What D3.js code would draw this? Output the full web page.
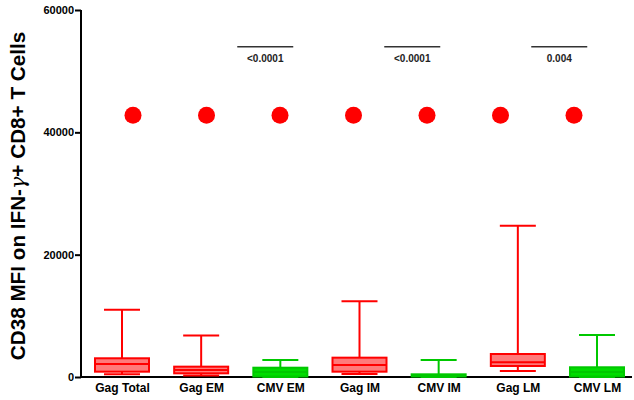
<!DOCTYPE html>
<html><head><meta charset="utf-8">
<script src="https://cdn.jsdelivr.net/npm/d3@7"></script>
<style>body{margin:0;background:#fff}svg{display:block}text{font-family:Arial,"Liberation Sans",sans-serif;font-weight:bold}</style>
</head><body><svg id="c" width="634" height="400"></svg>
<script>
const categories = ["Gag Total","Gag EM","CMV EM","Gag IM","CMV IM","Gag LM","CMV LM"];
const groups     = ["Gag","Gag","CMV","Gag","CMV","Gag","CMV"];
const whiskerLow = [440, 250, 0, 490, 0, 980, 0];
const q1         = [870, 600, 80, 870, 80, 1800, 80];
const median     = [2130, 1140, 800, 1960, 250, 2400, 800];
const q3         = [3060, 1690, 1520, 3160, 440, 3760, 1590];
const whiskerHigh= [11000, 6800, 2780, 12370, 2780, 24740, 6870];
const dotValues  = [42800, 42800, 42800, 42800, 42800, 42800, 42800];
const comparisons = [["Gag EM","CMV EM","<0.0001"],["Gag IM","CMV IM","<0.0001"],["Gag LM","CMV LM","0.004"]];
const compY = 54000;
const yTicks = [0, 20000, 40000, 60000];

const svg = d3.select("#c");
const y = d3.scaleLinear().domain([0, 60000]).range([377, 10]);
const x = d3.scalePoint().domain(categories).range([122, 597]);
const xDot = d3.scalePoint().domain(categories).range([133, 574]);
const stroke = {Gag:"#ff0000", CMV:"#00c800"};
const fill = {Gag:"#ff7a7a", CMV:"#00dd00"};
const bw = 54;

// y axis
const yAxis = d3.axisLeft(y).tickValues(yTicks).tickSize(6).tickFormat(d3.format("d"));
const gy = svg.append("g").attr("transform","translate(81,0)").call(yAxis);
gy.select(".domain").attr("stroke","#000").attr("stroke-width",2).attr("d","M0,10V377");
gy.selectAll(".tick line").attr("stroke","#000").attr("stroke-width",2);
gy.selectAll(".tick text").attr("font-size",11).attr("fill","#000").attr("x",-7);

// x axis
const xAxis = d3.axisBottom(x).tickSize(0).tickPadding(6);
const gx = svg.append("g").attr("transform","translate(0,377)").call(xAxis);
gx.select(".domain").attr("stroke","#000").attr("stroke-width",2).attr("d","M80,0H632");
gx.selectAll(".tick text").attr("font-size",12).attr("fill","#000").attr("dy","0.75em").attr("y",6);

// y title
const t = svg.append("text").attr("transform","translate(25,196) rotate(-90)").attr("text-anchor","middle").attr("font-size",20.7).attr("fill","#000");
t.append("tspan").text("CD38 MFI on IFN-");
t.append("tspan").attr("font-style","italic").attr("font-family","DejaVu Serif, serif").attr("font-weight","normal").text("γ");
t.append("tspan").text("+ CD8+ T Cells");

// boxes
const data = categories.map((c,i)=>({c, g:groups[i], lo:whiskerLow[i], q1:q1[i], med:median[i], q3:q3[i], hi:whiskerHigh[i]}));
const bg = svg.append("g").selectAll("g").data(data).join("g");
bg.append("line").attr("x1",d=>x(d.c)).attr("x2",d=>x(d.c)).attr("y1",d=>y(d.hi)).attr("y2",d=>y(d.q3)).attr("stroke",d=>stroke[d.g]).attr("stroke-width",2);
bg.append("line").attr("x1",d=>x(d.c)-bw/3).attr("x2",d=>x(d.c)+bw/3).attr("y1",d=>y(d.hi)).attr("y2",d=>y(d.hi)).attr("stroke",d=>stroke[d.g]).attr("stroke-width",2);
bg.append("line").attr("x1",d=>x(d.c)).attr("x2",d=>x(d.c)).attr("y1",d=>y(d.q1)).attr("y2",d=>y(d.lo)).attr("stroke",d=>stroke[d.g]).attr("stroke-width",2);
bg.append("line").attr("x1",d=>x(d.c)-bw/3).attr("x2",d=>x(d.c)+bw/3).attr("y1",d=>y(d.lo)).attr("y2",d=>y(d.lo)).attr("stroke",d=>stroke[d.g]).attr("stroke-width",2);
bg.append("rect").attr("x",d=>x(d.c)-bw/2).attr("width",bw).attr("y",d=>y(d.q3)).attr("height",d=>Math.max(1,y(d.q1)-y(d.q3))).attr("fill",d=>fill[d.g]).attr("stroke",d=>stroke[d.g]).attr("stroke-width",2);
bg.append("line").attr("x1",d=>x(d.c)-bw/2).attr("x2",d=>x(d.c)+bw/2).attr("y1",d=>y(d.med)).attr("y2",d=>y(d.med)).attr("stroke",d=>stroke[d.g]).attr("stroke-width",2);

// dots
svg.append("g").selectAll("circle").data(categories).join("circle")
  .attr("cx",c=>xDot(c)).attr("cy",(c,i)=>y(dotValues[i])).attr("r",8.5).attr("fill","#ff0000");

// comparisons
const cg = svg.append("g").selectAll("g").data(comparisons).join("g");
const mid = d=>(xDot(d[0])+xDot(d[1]))/2 + 22;
cg.append("line").attr("x1",d=>mid(d)-28).attr("x2",d=>mid(d)+28).attr("y1",y(compY)).attr("y2",y(compY)).attr("stroke","#333").attr("stroke-width",1.5);
cg.append("text").attr("x",mid).attr("y",y(compY)+15).attr("text-anchor","middle").attr("font-size",10).attr("fill","#222").text(d=>d[2]);
</script></body></html>
